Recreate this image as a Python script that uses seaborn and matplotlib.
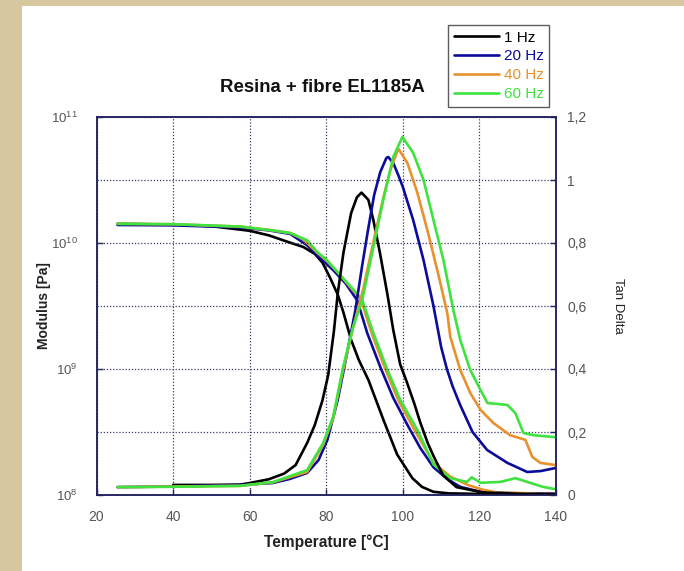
import numpy as np
import pandas as pd
import matplotlib
matplotlib.use("Agg")
import matplotlib.pyplot as plt
from matplotlib.patches import Rectangle
from matplotlib.lines import Line2D
from matplotlib.ticker import FixedLocator, FixedFormatter, NullLocator
import seaborn as sns

frequencies = ["1 Hz", "20 Hz", "40 Hz", "60 Hz"]
line_colors = ["#000000", "#0c0c9a", "#e8912f", "#3fe33f"]

# Storage modulus [Pa] against temperature [°C]
temp_mod_1hz = [25.5, 40, 50, 60, 65, 70, 74, 77, 79, 81, 83, 84.5, 86.5, 88.5, 91, 95,
                98.5, 102.5, 105, 108, 112, 120, 130, 140]
mod_1hz = [1.42e10, 1.40e10, 1.36e10, 1.25e10, 1.15e10, 1.02e10, 9.3e9, 8.2e9, 7.0e9,
           5.3e9, 3.9e9, 2.8e9, 1.7e9, 1.18e9, 8.2e8, 3.9e8, 2.1e8, 1.36e8, 1.16e8,
           1.06e8, 1.03e8, 1.02e8, 1.01e8, 1.01e8]

temp_mod_20hz = [25.5, 40, 57.5, 65, 70.6, 75, 78, 81.8, 85, 88.1, 90.7, 94.1, 97.5,
                 101.2, 104.6, 108, 111.6, 115, 120.3, 130, 140]
mod_20hz = [1.39e10, 1.38e10, 1.33e10, 1.26e10, 1.18e10, 9.6e9, 7.8e9, 6.1e9, 4.8e9,
            3.5e9, 1.93e9, 1.04e9, 5.9e8, 3.6e8, 2.35e8, 1.66e8, 1.34e8, 1.16e8,
            1.06e8, 1.03e8, 1.03e8]

temp_mod_40hz = [25.5, 40, 57.5, 65, 70.6, 74, 77.6, 80, 82.9, 87, 89, 92, 95.7, 99,
                 103.5, 108, 112.4, 117, 121, 125, 130, 135, 140]
mod_40hz = [1.42e10, 1.41e10, 1.35e10, 1.27e10, 1.20e10, 1.07e10, 8.4e9, 7.3e9, 5.9e9,
            4.2e9, 3.6e9, 1.87e9, 9.5e8, 5.5e8, 3.1e8, 1.8e8, 1.4e8, 1.2e8, 1.1e8,
            1.04e8, 1.04e8, 1.02e8, 1.02e8]

temp_mod_60hz = [25.5, 40, 57.5, 65, 70.6, 75, 77.6, 80, 82.9, 87, 89.4, 92.3, 96,
                 99.3, 103.8, 108, 112.4, 116.7, 118, 120.3, 125.5, 129.4, 132.5,
                 136.6, 140]
mod_60hz = [1.42e10, 1.41e10, 1.35e10, 1.27e10, 1.20e10, 1.05e10, 8.5e9, 7.4e9, 5.9e9,
            4.3e9, 3.53e9, 1.93e9, 9.8e8, 5.7e8, 3.28e8, 1.75e8, 1.36e8, 1.27e8,
            1.38e8, 1.25e8, 1.27e8, 1.36e8, 1.27e8, 1.16e8, 1.11e8]

# Tan delta against temperature [°C]
temp_tan_1hz = [40, 50, 57.5, 60, 65, 69, 72, 75, 77, 79, 80.5, 82, 83, 84.5, 86.5, 88,
                89.2, 91, 92.3, 94, 96, 97.5, 99.3, 101, 103, 104.5, 106.5, 108, 110.5,
                114, 121, 130, 140]
tan_1hz = [0.032, 0.032, 0.033, 0.038, 0.05, 0.068, 0.095, 0.165, 0.222, 0.30, 0.38,
           0.52, 0.64, 0.77, 0.895, 0.945, 0.96, 0.937, 0.873, 0.77, 0.635, 0.524,
           0.415, 0.36, 0.29, 0.232, 0.165, 0.124, 0.063, 0.025, 0.008, 0.004, 0.002]

temp_tan_20hz = [25.5, 40, 57.5, 66, 70.5, 75, 78, 80.3, 83, 85.5, 87.6, 89.4, 91,
                 92.5, 94.1, 95.7, 96.2, 97.5, 98.8, 100, 102.7, 105.4, 108, 110,
                 111.5, 113, 115, 118.2, 122, 127.3, 132.5, 136, 140]
tan_20hz = [0.025, 0.027, 0.032, 0.038, 0.051, 0.070, 0.111, 0.175, 0.302, 0.454,
            0.587, 0.730, 0.848, 0.952, 1.025, 1.070, 1.073, 1.054, 1.016, 0.978,
            0.873, 0.746, 0.60, 0.47, 0.40, 0.345, 0.285, 0.20, 0.143, 0.102, 0.073,
            0.076, 0.086]

temp_tan_40hz = [25.5, 40, 57.5, 66, 75, 79.2, 81.8, 84.4, 87, 89.6, 92.3, 94.9, 96.7,
                 98.8, 101.2, 103.8, 106.4, 109, 111.6, 112.4, 115, 117.6, 120.3,
                 123.6, 128, 132, 133.8, 135.9, 139.9]
tan_40hz = [0.025, 0.027, 0.029, 0.040, 0.073, 0.159, 0.244, 0.397, 0.530, 0.651,
            0.803, 0.943, 1.03, 1.10, 1.054, 0.959, 0.841, 0.714, 0.578, 0.502, 0.397,
            0.324, 0.27, 0.229, 0.19, 0.175, 0.121, 0.102, 0.095]

temp_tan_60hz = [25.5, 40, 57.5, 66.1, 75, 79.2, 81.8, 84.4, 87, 89.4, 92.3, 94.9,
                 97.5, 99.9, 102.7, 105.4, 108, 110.6, 113.2, 115, 117.6, 120.3, 122.1,
                 127.3, 129.4, 131.5, 134.1, 139.3, 140]
tan_60hz = [0.025, 0.026, 0.029, 0.041, 0.079, 0.165, 0.248, 0.406, 0.533, 0.619,
            0.787, 0.937, 1.073, 1.137, 1.086, 1.0, 0.873, 0.746, 0.587, 0.492, 0.397,
            0.333, 0.292, 0.286, 0.26, 0.197, 0.19, 0.184, 0.184]

modulus_sets = [(temp_mod_1hz, mod_1hz), (temp_mod_20hz, mod_20hz),
                (temp_mod_40hz, mod_40hz), (temp_mod_60hz, mod_60hz)]
tan_sets = [(temp_tan_1hz, tan_1hz), (temp_tan_20hz, tan_20hz),
            (temp_tan_40hz, tan_40hz), (temp_tan_60hz, tan_60hz)]


def long_frame(sets, value_name):
    parts = []
    for freq, (t, v) in zip(frequencies, sets):
        parts.append(pd.DataFrame({"Temperature": t, value_name: v, "Frequency": freq}))
    return pd.concat(parts, ignore_index=True)


df_mod = long_frame(modulus_sets, "Modulus")
df_tan = long_frame(tan_sets, "TanDelta")
palette = dict(zip(frequencies, line_colors))

sns.set_theme(style="white")
plt.rcParams["font.family"] = ["Liberation Sans", "DejaVu Sans"]
plt.rcParams["mathtext.fontset"] = "custom"
plt.rcParams["mathtext.rm"] = "Liberation Sans"
plt.rcParams["mathtext.it"] = "Liberation Sans"

W, H = 684, 571
fig = plt.figure(figsize=(W / 100, H / 100), dpi=100)
fig.patch.set_facecolor("#d6c79e")
# white sheet behind the chart
sheet = Rectangle((22 / W, 0), 1 - 22 / W, 1 - 6 / H, transform=fig.transFigure,
                  facecolor="white", edgecolor="none", zorder=-10)
fig.patches.append(sheet)

left, right, top, bottom = 96.5, 556, 117, 495
ax = fig.add_axes([left / W, 1 - bottom / H, (right - left) / W, (bottom - top) / H])
ax.set_facecolor("white")
ax2 = ax.twinx()

spine_col = "#22225e"
tick_col = "#555555"
grid_col = "#3a3a60"

sns.lineplot(data=df_mod, x="Temperature", y="Modulus", hue="Frequency",
             palette=palette, hue_order=frequencies, estimator=None, sort=False,
             linewidth=1.9, legend=False, ax=ax)
sns.lineplot(data=df_tan, x="Temperature", y="TanDelta", hue="Frequency",
             palette=palette, hue_order=frequencies, estimator=None, sort=False,
             linewidth=1.9, legend=False, ax=ax2)

ax.set_yscale("log")
ax.set_xlim(20, 140)
ax.set_ylim(1e8, 1e11)
ax2.set_ylim(0, 1.2)

ax.xaxis.set_major_locator(FixedLocator([20, 40, 60, 80, 100, 120, 140]))
ax.yaxis.set_major_locator(FixedLocator([1e8, 1e9, 1e10, 1e11]))
ax.yaxis.set_major_formatter(FixedFormatter([r"$10^{8}$", r"$10^{9}$", r"$10^{10}$", r"$10^{11}$"]))
ax.yaxis.set_minor_locator(NullLocator())
tan_ticks = [0, 0.2, 0.4, 0.6, 0.8, 1.0, 1.2]
ax2.yaxis.set_major_locator(FixedLocator(tan_ticks))
ax2.yaxis.set_major_formatter(FixedFormatter(["0", "0,2", "0,4", "0,6", "0,8", "1", "1,2"]))

ax.xaxis.grid(True, linestyle=(0, (1, 1.5)), color=grid_col, linewidth=0.9)
ax2.yaxis.grid(True, linestyle=(0, (1, 1.5)), color=grid_col, linewidth=0.9)
ax.yaxis.grid(False)
ax2.xaxis.grid(False)

for a in (ax, ax2):
    for s in a.spines.values():
        s.set_color(spine_col)
        s.set_linewidth(1.1)
    a.tick_params(direction="in", length=4, width=1, color=spine_col,
                  labelcolor=tick_col, labelsize=10)
ax.tick_params(axis="y", left=True, right=False, labelsize=9.5, pad=13.5)
ax.tick_params(axis="x", bottom=True, pad=11)
ax2.tick_params(axis="y", right=True, pad=8)

ax.set_xlabel("Temperature [°C]", fontsize=11.2, fontweight="bold", color="#222222",
              labelpad=7)
ax.set_ylabel("Modulus [Pa]", fontsize=10, fontweight="bold", color="#222222", labelpad=0)
ax2.set_ylabel("Tan Delta", fontsize=9.5, color="#222222", rotation=-90, labelpad=27)

fig.text(322 / W, 1 - 87 / H, "Resina + fibre EL1185A", ha="center", va="center",
         fontsize=13.4, fontweight="bold", color="#111111")

handles = [Line2D([], [], color=c, linewidth=1.9) for c in line_colors]
leg = fig.legend(handles, frequencies, loc="upper left",
                 bbox_to_anchor=(448 / W, 1 - 25 / H), frameon=True, fancybox=False,
                 edgecolor="#333333", fontsize=11, handlelength=2.95, handletextpad=0.33,
                 labelspacing=0.32, borderpad=0.36, borderaxespad=0)
leg.get_frame().set_linewidth(1.0)
for txt, c in zip(leg.get_texts(), line_colors):
    txt.set_color(c)

fig.savefig("out.png", dpi=100, facecolor=fig.get_facecolor())
